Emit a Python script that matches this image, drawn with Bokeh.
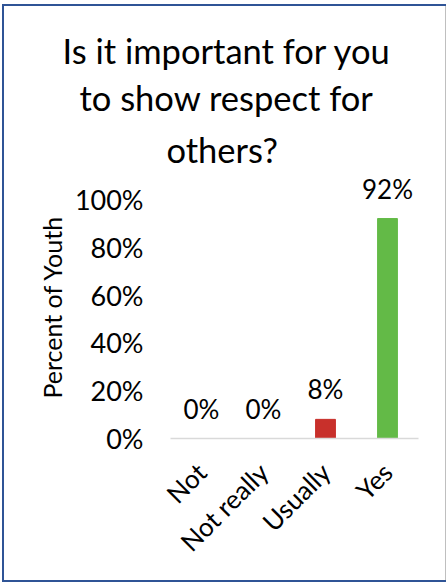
from bokeh.plotting import figure
from bokeh.models import (ColumnDataSource, FactorRange, Range1d, FixedTicker,
                          NumeralTickFormatter, LabelSet, Title)
from bokeh.core.properties import value
from bokeh.embed import file_html
from bokeh.resources import INLINE
import math

# ---- data ----
categories = ["Not", "Not really", "Usually", "Yes"]
values = [0.0, 0.0, 0.08, 0.92]
value_labels = ["0%", "0%", "8%", "92%"]
colors = ["#C8302B", "#C8302B", "#C8302B", "#63BA47"]
y_ticks = [0.0, 0.2, 0.4, 0.6, 0.8, 1.0]
title_lines = ["Is it important for you", "to show respect for", "others?"]
title_offsets = [-108, -91, -4]
title_standoffs = [4, 5, 12]

FONT = "Lato"
BLUE = "#2F5496"

src = ColumnDataSource(dict(cat=categories, val=values, lab=value_labels, col=colors))

p = figure(width=447, height=583, x_range=FactorRange(*categories, range_padding=0),
           y_range=Range1d(0, 1.1), output_backend="svg", toolbar_location=None,
           min_border_left=170, min_border_right=29, min_border_top=175,
           min_border_bottom=145)
p.outline_line_color = None
p.border_fill_color = None
p.background_fill_color = None
p.xgrid.grid_line_color = None
p.ygrid.grid_line_color = None
# thin frame around the whole chart (inset, under the transparent canvas)
p.styles = {
    "background-color": "white",
    "box-shadow": (
        "inset 0 4px 0 0 white, inset 2px 0 0 0 white, "
        "inset 0 -1px 0 0 white, inset -1px 0 0 0 white, "
        f"inset 0 6px 0 0 {BLUE}, inset 4px 0 0 0 {BLUE}, "
        f"inset 0 -3px 0 0 {BLUE}, inset -2px 0 0 0 #BFBFBF"
    ),
}

p.vbar(x="cat", top="val", width=0.32, color="col", source=src)

labels = LabelSet(x="cat", y="val", text="lab", source=src, text_align="center",
                  text_baseline="alphabetic", y_offset=20, text_font=value(FONT),
                  text_font_size="26px", text_color="#000000")
p.add_layout(labels)

# y axis
p.yaxis.ticker = FixedTicker(ticks=y_ticks)
p.yaxis.formatter = NumeralTickFormatter(format="0%")
p.yaxis.axis_line_color = None
p.yaxis.major_tick_line_color = None
p.yaxis.minor_tick_line_color = None
p.yaxis.major_tick_in = 0
p.yaxis.major_tick_out = 0
p.yaxis.major_label_standoff = 27
p.yaxis.major_label_text_font = FONT
p.yaxis.major_label_text_font_size = "27px"
p.yaxis.major_label_text_color = "#000000"
p.yaxis.axis_label = "Percent of Youth"
p.yaxis.axis_label_text_font = FONT
p.yaxis.axis_label_text_font_size = "25px"
p.yaxis.axis_label_text_font_style = "normal"
p.yaxis.axis_label_text_color = "#000000"
p.yaxis.axis_label_standoff = 5

# x axis
p.xaxis.axis_line_color = "#D9D9D9"
p.xaxis.axis_line_width = 1.5
p.xaxis.major_tick_line_color = None
p.xaxis.minor_tick_line_color = None
p.xaxis.major_tick_in = 0
p.xaxis.major_tick_out = 0
p.xaxis.major_label_standoff = 29
p.xaxis.major_label_orientation = math.pi / 4
p.xaxis.major_label_text_font = FONT
p.xaxis.major_label_text_font_size = "26px"
p.xaxis.major_label_text_color = "#000000"

# title as three lines (inner line added first)
for line, off, so in reversed(list(zip(title_lines, title_offsets, title_standoffs))):
    p.add_layout(Title(text=line, align="left", offset=off, text_font=FONT,
                       text_font_size="34.5px", text_font_style="normal",
                       text_color="#000000", standoff=so), "above")

html = file_html(p, INLINE)
html = html.replace("<head>", "<head><style>html,body{margin:0;padding:0;overflow:hidden}</style>", 1)
open("out.html", "w").write(html)
